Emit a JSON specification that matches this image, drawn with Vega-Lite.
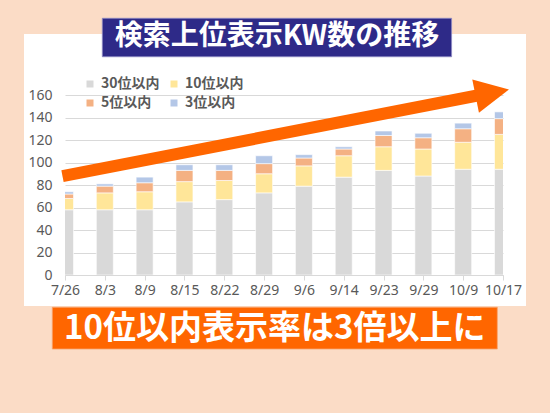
{
  "$schema": "https://vega.github.io/schema/vega-lite/v6.json",
  "width": 438,
  "height": 180,
  "autosize": "none",
  "padding": {"left": 65, "top": 95, "right": 47, "bottom": 138},
  "background": "#FFFFFF",
  "config": {"view": {"stroke": null}, "font": "Noto Sans"},
  "resolve": {"scale": {"x": "independent"}, "axis": {"y": "independent"}},
  "layer": [
    {
      "data": {
        "values": [
          {"date": "7/26", "series": "30位以内", "count": 58},
          {"date": "7/26", "series": "10位以内", "count": 10},
          {"date": "7/26", "series": "5位以内", "count": 4},
          {"date": "7/26", "series": "3位以内", "count": 2},
          {"date": "8/3", "series": "30位以内", "count": 58},
          {"date": "8/3", "series": "10位以内", "count": 15},
          {"date": "8/3", "series": "5位以内", "count": 6},
          {"date": "8/3", "series": "3位以内", "count": 2},
          {"date": "8/9", "series": "30位以内", "count": 58},
          {"date": "8/9", "series": "10位以内", "count": 16},
          {"date": "8/9", "series": "5位以内", "count": 8},
          {"date": "8/9", "series": "3位以内", "count": 5},
          {"date": "8/15", "series": "30位以内", "count": 65},
          {"date": "8/15", "series": "10位以内", "count": 18},
          {"date": "8/15", "series": "5位以内", "count": 10},
          {"date": "8/15", "series": "3位以内", "count": 5},
          {"date": "8/22", "series": "30位以内", "count": 67},
          {"date": "8/22", "series": "10位以内", "count": 17},
          {"date": "8/22", "series": "5位以内", "count": 9},
          {"date": "8/22", "series": "3位以内", "count": 5},
          {"date": "8/29", "series": "30位以内", "count": 73},
          {"date": "8/29", "series": "10位以内", "count": 17},
          {"date": "8/29", "series": "5位以内", "count": 9},
          {"date": "8/29", "series": "3位以内", "count": 7},
          {"date": "9/6", "series": "30位以内", "count": 79},
          {"date": "9/6", "series": "10位以内", "count": 18},
          {"date": "9/6", "series": "5位以内", "count": 7},
          {"date": "9/6", "series": "3位以内", "count": 3},
          {"date": "9/14", "series": "30位以内", "count": 87},
          {"date": "9/14", "series": "10位以内", "count": 19},
          {"date": "9/14", "series": "5位以内", "count": 6},
          {"date": "9/14", "series": "3位以内", "count": 2},
          {"date": "9/23", "series": "30位以内", "count": 93},
          {"date": "9/23", "series": "10位以内", "count": 21},
          {"date": "9/23", "series": "5位以内", "count": 10},
          {"date": "9/23", "series": "3位以内", "count": 4},
          {"date": "9/29", "series": "30位以内", "count": 88},
          {"date": "9/29", "series": "10位以内", "count": 24},
          {"date": "9/29", "series": "5位以内", "count": 10},
          {"date": "9/29", "series": "3位以内", "count": 4},
          {"date": "10/9", "series": "30位以内", "count": 94},
          {"date": "10/9", "series": "10位以内", "count": 24},
          {"date": "10/9", "series": "5位以内", "count": 12},
          {"date": "10/9", "series": "3位以内", "count": 5},
          {"date": "10/17", "series": "30位以内", "count": 94},
          {"date": "10/17", "series": "10位以内", "count": 31},
          {"date": "10/17", "series": "5位以内", "count": 14},
          {"date": "10/17", "series": "3位以内", "count": 6}
        ]
      },
      "transform": [
        {"calculate": "indexof(['30位以内','10位以内','5位以内','3位以内'], datum.series)", "as": "stackOrder"}
      ],
      "mark": {"type": "bar", "size": 17, "clip": true, "stroke": "#FFFFFF", "strokeWidth": 0.6},
      "encoding": {
        "x": {
          "field": "date", "type": "ordinal", "sort": null,
          "scale": {"type": "point", "padding": 0},
          "axis": {
            "title": null, "labelAngle": 0, "labelFontSize": 14, "labelColor": "#595959",
            "labelFont": "Noto Sans", "labelPadding": 3, "labelOverlap": false,
            "ticks": true, "tickSize": 5, "tickColor": "#D9D9D9", "domainColor": "#D9D9D9",
            "grid": false
          }
        },
        "y": {
          "field": "count", "type": "quantitative", "stack": "zero",
          "scale": {"domain": [0, 160], "nice": false},
          "axis": {
            "title": null, "values": [0, 20, 40, 60, 80, 100, 120, 140, 160],
            "labelOverlap": false, "orient": "left",
            "labelFontSize": 14, "labelColor": "#595959", "labelFont": "Noto Sans",
            "ticks": false, "tickSize": 0, "labelPadding": 13, "domain": false,
            "grid": true, "gridColor": "#D9D9D9", "gridWidth": 1
          }
        },
        "color": {
          "field": "series", "type": "nominal",
          "scale": {
            "domain": ["30位以内", "10位以内", "5位以内", "3位以内"],
            "range": ["#D9D9D9", "#FFE699", "#F4B183", "#B4C7E7"]
          },
          "legend": {
            "title": null, "orient": "none", "legendX": 18, "legendY": -18,
            "direction": "horizontal",
            "columns": 2, "columnPadding": 7, "rowPadding": 5, "padding": 0,
            "symbolType": "square", "symbolSize": 49, "symbolStrokeWidth": 0,
            "labelFont": "Noto Sans CJK JP", "labelFontSize": 14, "labelFontWeight": "bold",
            "labelColor": "#595959", "labelOffset": 4
          }
        },
        "order": {"field": "stackOrder", "type": "quantitative", "sort": "ascending"}
      }
    },
    {
      "data": {"values": [{}]},
      "layer": [
        {
          "mark": {"type": "rect", "fill": "transparent", "stroke": "#FBDCC6", "strokeWidth": 220},
          "encoding": {
            "x": {"datum": -3.792, "type": "quantitative", "scale": {"domain": [0, 11], "nice": false, "zero": false}, "axis": null},
            "x2": {"datum": 14.34},
            "y": {"datum": 312, "type": "quantitative", "scale": {"domain": [0, 160], "nice": false}, "axis": null},
            "y2": {"datum": -125.3}
          }
        },
        {
          "mark": {"type": "rect", "fill": "#2E2A88", "stroke": "#8F8CC4", "strokeWidth": 0.8},
          "encoding": {
            "x": {"datum": 0.937, "type": "quantitative", "scale": {"domain": [0, 11], "nice": false, "zero": false}, "axis": null},
            "x2": {"datum": 9.709},
            "y": {"datum": 228.2, "type": "quantitative", "scale": {"domain": [0, 160], "nice": false}, "axis": null},
            "y2": {"datum": 194.0}
          }
        },
        {
          "mark": {"type": "text", "text": "検索上位表示KW数の推移", "font": "Noto Sans CJK JP", "fontSize": 28, "fontWeight": "bold", "color": "#FFFFFF", "align": "center", "baseline": "middle"},
          "encoding": {
            "x": {"datum": 5.324, "type": "quantitative", "scale": {"domain": [0, 11], "nice": false, "zero": false}, "axis": null},
            "y": {"datum": 211.7, "type": "quantitative", "scale": {"domain": [0, 160], "nice": false}, "axis": null}
          }
        },
        {
          "mark": {"type": "rect", "fill": "#FF6600", "stroke": "#F8A56E", "strokeWidth": 0.8},
          "encoding": {
            "x": {"datum": -0.319, "type": "quantitative", "scale": {"domain": [0, 11], "nice": false, "zero": false}, "axis": null},
            "x2": {"datum": 10.857},
            "y": {"datum": -28.7, "type": "quantitative", "scale": {"domain": [0, 160], "nice": false}, "axis": null},
            "y2": {"datum": -65.8}
          }
        },
        {
          "mark": {"type": "text", "text": "10位以内表示率は3倍以上に", "font": "Noto Sans CJK JP", "fontSize": 33, "fontWeight": "bold", "color": "#FFFFFF", "align": "center", "baseline": "middle"},
          "encoding": {
            "x": {"datum": 5.269, "type": "quantitative", "scale": {"domain": [0, 11], "nice": false, "zero": false}, "axis": null},
            "y": {"datum": -47.6, "type": "quantitative", "scale": {"domain": [0, 160], "nice": false}, "axis": null}
          }
        },
        {
          "mark": {"type": "rule", "color": "#FF6600", "strokeWidth": 12, "strokeCap": "butt"},
          "encoding": {
            "x": {"datum": -0.063, "type": "quantitative", "scale": {"domain": [0, 11], "nice": false, "zero": false}, "axis": null},
            "x2": {"datum": 10.422},
            "y": {"datum": 87.8, "type": "quantitative", "scale": {"domain": [0, 160], "nice": false}, "axis": null},
            "y2": {"datum": 160.0}
          }
        },
        {
          "mark": {"type": "point", "shape": "M-1,-1L1,0L-1,1Z", "size": 1156, "angle": 348.7, "filled": true, "fill": "#FF6600", "opacity": 1, "strokeWidth": 0},
          "encoding": {
            "x": {"datum": 10.731, "type": "quantitative", "scale": {"domain": [0, 11], "nice": false, "zero": false}, "axis": null},
            "y": {"datum": 162.0, "type": "quantitative", "scale": {"domain": [0, 160], "nice": false}, "axis": null}
          }
        }
      ]
    }
  ]
}
